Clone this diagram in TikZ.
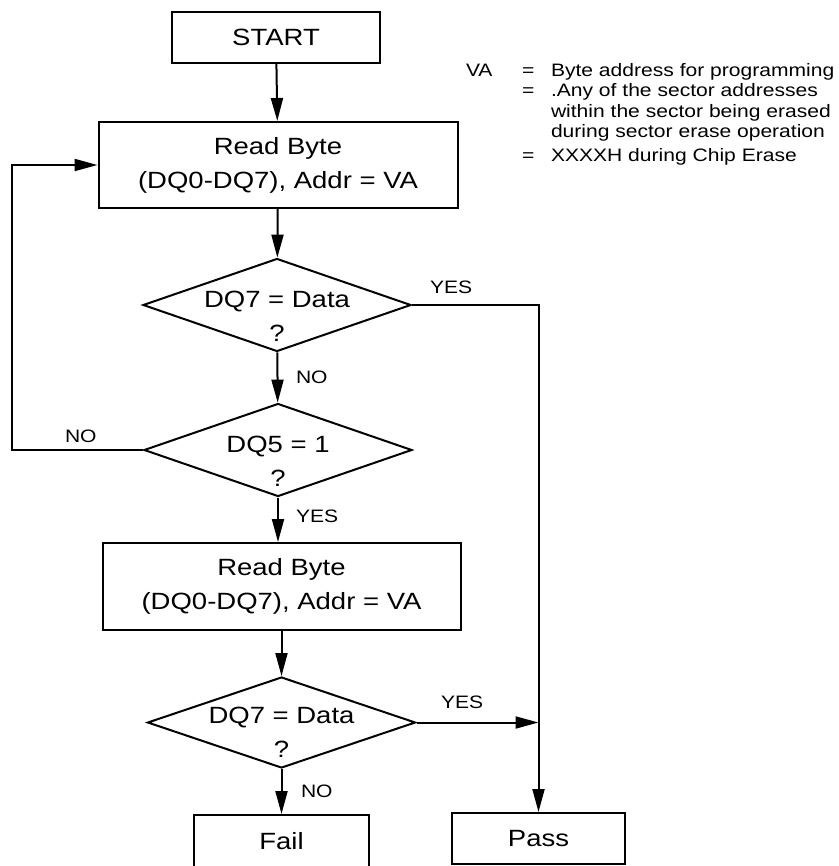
\documentclass[tikz,border=0pt]{standalone}
\usepackage{fontspec}
\setmainfont{Liberation Sans}[FakeStretch=1.17]
\usetikzlibrary{positioning,shapes.geometric,arrows.meta}

\begin{document}
\begin{tikzpicture}[x=1pt,y=-1pt,line width=2pt,
	block/.style={draw,rectangle,inner sep=0pt,align=center,font=\fontsize{23.5}{34}\selectfont},
	decision/.style={draw,diamond,inner sep=0pt,minimum width=268pt,minimum height=93pt},
	qtext/.style={align=center,font=\fontsize{23.5}{34}\selectfont,yshift=-11pt},
	lbl/.style={anchor=base west,inner sep=0pt,font=\fontsize{18}{20}\selectfont},
	legend/.style={anchor=base west,inner sep=0pt,font=\fontsize{18}{20}\selectfont},
	flow/.style={-{Triangle[length=23pt,width=12pt]}}]
			\useasboundingbox (0,0) rectangle (838,866);

			\node(start)	[block,minimum width=208pt,minimum height=51pt] at (276,37.5) {START};
			\node(read1)	[block,minimum width=359pt,minimum height=86pt] at (278,165) {Read Byte\\(DQ0-DQ7), Addr = VA};
			\node(dec1)	[decision,label={[qtext]center:{DQ7 = Data\\?}}] at (277,305) {};
			\node(dec2)	[decision,label={[qtext]center:{DQ5 = 1\\?}}] at (278,450) {};
			\node(read2)	[block,minimum width=358pt,minimum height=87pt] at (281.5,586.5) {Read Byte\\(DQ0-DQ7), Addr = VA};
			\node(dec3)	[decision,minimum height=91pt,label={[qtext,yshift=1pt]center:{DQ7 = Data\\?}}] at (281.5,722.5) {};
			\node(fail)	[block,minimum width=175pt,minimum height=53pt] at (281.5,841.5) {Fail};
			\node(pass)	[block,minimum width=173pt,minimum height=51pt] at (538.5,838.5) {Pass};

			\coordinate(corner) at (12,450);
			\coordinate(merge) at (pass.north |- dec3.east);

			\draw[flow](start) -- (read1);
			\draw[flow](read1) -- (dec1);
			\draw[flow](dec1) -- (dec2);
			\draw[flow](dec2.south) -- (dec2.south |- read2.north);
			\draw[flow](read2) -- (dec3);
			\draw[flow](dec3) -- (fail);
			\draw[flow](dec2.west) -- (corner) |- (read1.west);
			\draw[flow](dec1.east) -| (pass.north);
			\draw[flow](dec3.east) -- (merge);

			\node(yes1)	[lbl] at (429,293) {YES};
			\node(no1)	[lbl] at (295,383) {NO};
			\node(no2)	[lbl] at (64,442) {NO};
			\node(yes2)	[lbl] at (295,522) {YES};
			\node(yes3)	[lbl] at (440,708) {YES};
			\node(no3)	[lbl] at (300,797) {NO};

			\node(va)	[legend] at (465,77) {VA};
			\node(eq1)	[legend] at (521,77) {=};
			\node(txt1)	[legend] at (550,77) {Byte address for programming};
			\node(eq2)	[legend] at (521,97) {=};
			\node(txt2)	[legend] at (550,97) {.Any of the sector addresses};
			\node(txt3)	[legend] at (550,118) {within the sector being erased};
			\node(txt4)	[legend] at (550,138) {during sector erase operation};
			\node(eq3)	[legend] at (521,162) {=};
			\node(txt5)	[legend] at (550,162) {XXXXH during Chip Erase};
		\end{tikzpicture}
\end{document}
